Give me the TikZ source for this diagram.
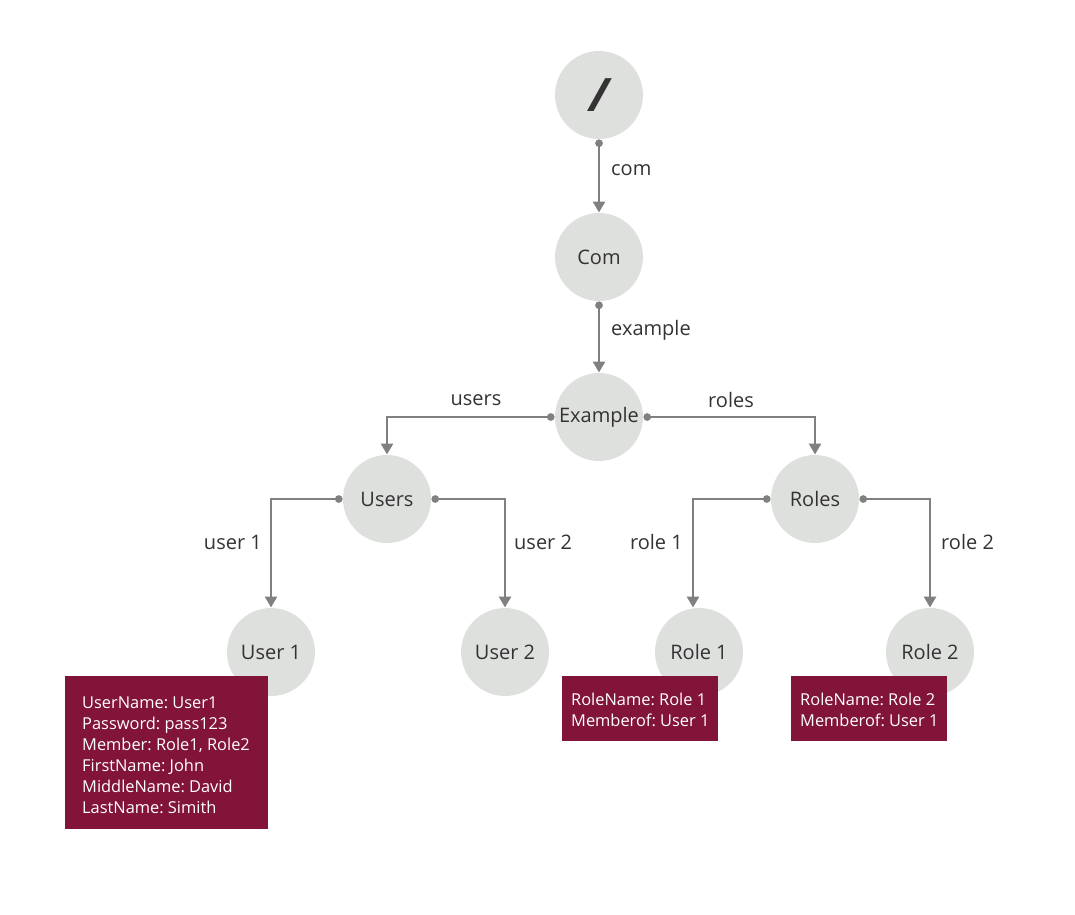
\documentclass[tikz,border=0pt]{standalone}
\usepackage{fontspec}
\setmainfont{Open Sans}
\usetikzlibrary{arrows.meta,positioning}
\definecolor{nodefill}{HTML}{DEE0DD}
\definecolor{linegray}{HTML}{808080}
\definecolor{boxred}{HTML}{811438}
\definecolor{txt}{HTML}{333333}
\tikzset{
  tnode/.style={circle,fill=nodefill,minimum size=88pt,inner sep=0pt,outer sep=0.5pt,text=txt,font=\fontsize{20}{24}\selectfont},
  conn/.style={draw=linegray,line width=2.8pt,{Circle[length=7.5pt]}-{Triangle[width=12pt,length=11pt]}},
  elabel/.style={text=txt,font=\fontsize{20}{24}\selectfont,inner sep=0pt},
  infobox/.style={fill=boxred,anchor=north west,inner sep=0pt},
  boxtext/.style={text=white,anchor=north west,align=left,inner sep=0pt,font=\fontsize{16.4}{21}\selectfont}
}
\begin{document}
\frenchspacing
\begin{tikzpicture}[x=1pt,y=-1pt]
\useasboundingbox (0,0) rectangle (1075,914);
\node[tnode,font=\fontsize{46}{48}\selectfont\bfseries\itshape] (root) at (599,95) {/};
\node[tnode] (com) at (599,257) {Com};
\node[tnode] (example) at (599,417) {Example};
\node[tnode] (users) at (387,499) {Users};
\node[tnode] (roles) at (815,499) {Roles};
\node[tnode] (user1) at (271,652) {User 1};
\node[tnode] (user2) at (505,652) {User 2};
\node[tnode] (role1) at (699,652) {Role 1};
\node[tnode] (role2) at (930,652) {Role 2};

\draw[conn] (root) -- (com);
\draw[conn] (com) -- (example);
\draw[conn] (example.west) -| (users.north);
\draw[conn] (example.east) -| (roles.north);
\draw[conn] (users.west) -| (user1.north);
\draw[conn] (users.east) -| (user2.north);
\draw[conn] (roles.west) -| ([xshift=-6pt]role1.north);
\draw[conn] (roles.east) -| (role2.north);

\node[elabel,anchor=west] (lcom) at (611,170) {com};
\node[elabel,anchor=west] (lex) at (611,330) {example};
\node[elabel] (lusers) at (476,400) {users};
\node[elabel] (lroles) at (731,400) {roles};
\node[elabel,anchor=east] (lu1) at (262,542) {user 1};
\node[elabel,anchor=west] (lu2) at (514,542) {user 2};
\node[elabel,anchor=east] (lr1) at (683,542) {role 1};
\node[elabel,anchor=west] (lr2) at (941,542) {role 2};

\node[infobox,minimum width=203pt,minimum height=153pt] (box1) at (65,676) {};
\node[boxtext] (t1) at ([shift={(17,21)}]box1.north west)
 {UserName: User1\\Password: pass123\\Member: Role1, Role2\\FirstName: John\\MiddleName: David\\LastName: Simith};
\node[infobox,minimum width=156pt,minimum height=65pt] (box2) at (562,676) {};
\node[boxtext] (t2) at ([shift={(9,17)}]box2.north west)
 {RoleName: Role 1\\Memberof: User 1};
\node[infobox,minimum width=156pt,minimum height=65pt] (box3) at (791,676) {};
\node[boxtext] (t3) at ([shift={(9,17)}]box3.north west)
 {RoleName: Role 2\\Memberof: User 1};
\end{tikzpicture}
\end{document}
